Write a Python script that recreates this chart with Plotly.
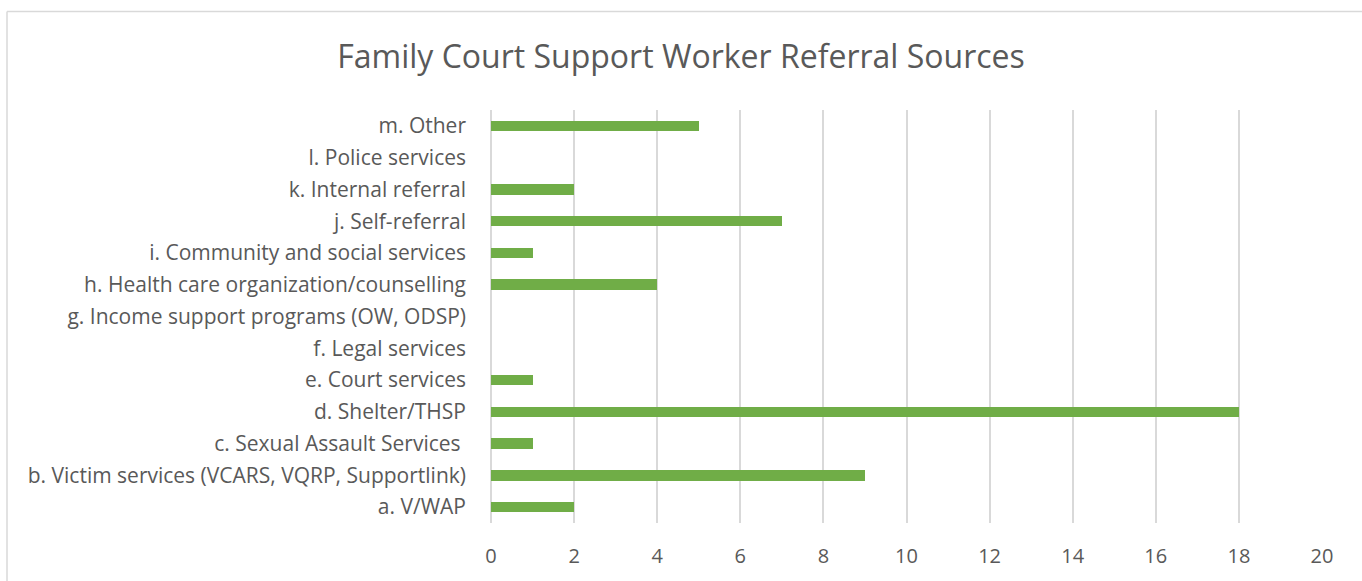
import plotly.graph_objects as go

categories = [
    "a. V/WAP",
    "b. Victim services (VCARS, VQRP, Supportlink)",
    "c. Sexual Assault Services ",
    "d. Shelter/THSP",
    "e. Court services",
    "f. Legal services",
    "g. Income support programs (OW, ODSP)",
    "h. Health care organization/counselling",
    "i. Community and social services",
    "j. Self-referral",
    "k. Internal referral",
    "l. Police services",
    "m. Other",
]
values = [2, 9, 1, 18, 1, 0, 0, 4, 1, 7, 2, 0, 5]
x_ticks = [0, 2, 4, 6, 8, 10, 12, 14, 16, 18, 20]

W, H = 1362, 581
L, R, T, B = 491, 40, 110, 56
pw, ph = W - L - R, H - T - B

fig = go.Figure(go.Bar(
    x=values, y=categories, orientation="h",
    marker=dict(color="#70AD47", line=dict(width=0)),
    width=0.33,
))

fnt = "Open Sans"
fig.update_layout(
    width=W, height=H,
    margin=dict(l=L, r=R, t=T, b=B),
    paper_bgcolor="white", plot_bgcolor="white",
    title=dict(text="Family Court Support Worker Referral Sources",
               x=0.5, xanchor="center", y=1 - 57 / H, yanchor="middle",
               font=dict(family=fnt, size=32, color="#595959")),
    font=dict(family=fnt, size=21, color="#595959"),
    showlegend=False,
    bargap=0,
)
fig.update_xaxes(range=[0, 20], tickvals=x_ticks, showgrid=True, gridcolor="#d9d9d9",
                 gridwidth=1.6, zeroline=True, zerolinecolor="#d9d9d9", zerolinewidth=1.6,
                 showline=False, ticks="", ticklabelstandoff=19,
                 tickfont=dict(family=fnt, size=20, color="#595959"))
fig.update_yaxes(categoryorder="array", categoryarray=categories, showgrid=False,
                 showline=False, ticks="", ticklabelstandoff=24, range=[-0.5, 12.5],
                 tickfont=dict(family=fnt, size=21, color="#595959"))

# outer chart border (left and top visible)
bx = (7 - L) / pw
by = 1 + (T - 11) / ph
fig.add_shape(type="line", xref="paper", yref="paper", x0=bx, x1=2, y0=by, y1=by,
              line=dict(color="#d9d9d9", width=1.5))
fig.add_shape(type="line", xref="paper", yref="paper", x0=bx, x1=bx, y0=by, y1=-2,
              line=dict(color="#d9d9d9", width=1.5))

fig.write_html("out.html")
